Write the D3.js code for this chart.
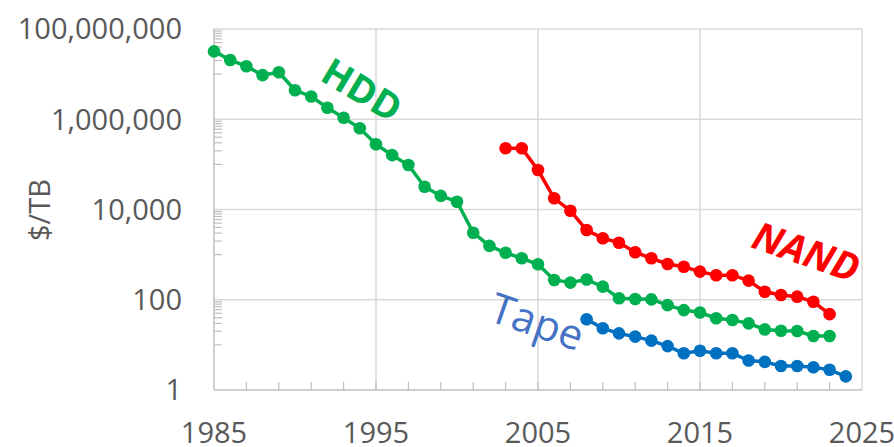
<!DOCTYPE html>
<html>
<head>
<meta charset="utf-8">
<script src="https://cdn.jsdelivr.net/npm/d3@7"></script>
<style>
  body { margin: 0; background: #fff; }
  text { font-family: "Open Sans", sans-serif; }
</style>
</head>
<body>
<div id="chart"></div>
<script>
// data ($/TB by year)
var hddYears = d3.range(1985, 2024);
var hddValues = [3.2e7, 2.05e7, 1.5e7, 9.5e6, 1.1e7, 4.4e6, 3.2e6, 1.8e6, 1.08e6, 6.3e5,
                 2.8e5, 1.6e5, 9.7e4, 3.2e4, 2.0e4, 1.49e4, 3060, 1560, 1100, 830,
                 610, 275, 240, 280, 195, 108, 104, 102, 76, 59,
                 52, 39, 35.5, 30, 22, 20.6, 20.3, 15.7, 15.7];
var nandYears = d3.range(2003, 2024);
var nandValues = [2.27e5, 2.27e5, 7.5e4, 1.77e4, 9400, 3500, 2300, 1840, 1130, 830,
                  620, 540, 420, 350, 350, 265, 150, 127, 117, 90, 48];
var tapeYears = d3.range(2008, 2025);
var tapeValues = [36.9, 23.3, 18, 15.2, 12.4, 9.4, 6.5, 7.4, 6.5, 6.5,
                  4.5, 4.2, 3.4, 3.4, 3.2, 2.8, 2.0];
var yTicks = [1, 100, 10000, 1000000, 100000000];
var xTicks = [1985, 1995, 2005, 2015, 2025];

var width = 894, height = 447;
var plot = {left: 214, right: 862, top: 29, bottom: 390};

var svg = d3.select("#chart")
  .append("svg")
    .attr("width", width)
    .attr("height", height);

var x = d3.scaleLinear().domain([1985, 2025]).range([plot.left, plot.right]);
var y = d3.scaleLog().domain([1, 1e8]).range([plot.bottom, plot.top]);

// gridlines
svg.append("g")
  .selectAll("line")
  .data(yTicks.slice(1))
  .enter()
  .append("line")
    .attr("x1", plot.left).attr("x2", plot.right)
    .attr("y1", function(d) { return y(d); })
    .attr("y2", function(d) { return y(d); })
    .attr("stroke", "#d9d9d9")
    .attr("stroke-width", 1.5);

svg.append("g")
  .selectAll("line")
  .data(xTicks.slice(1))
  .enter()
  .append("line")
    .attr("x1", function(d) { return x(d); })
    .attr("x2", function(d) { return x(d); })
    .attr("y1", plot.top).attr("y2", plot.bottom)
    .attr("stroke", "#d9d9d9")
    .attr("stroke-width", 1.5);

// minor ticks on y axis: n * 10^(2k+1)
var yMinor = [];
[1, 3, 5, 7].forEach(function(e) {
  for (var n = 1; n < 10; n++) yMinor.push(n * Math.pow(10, e));
});
svg.append("g")
  .selectAll("line")
  .data(yMinor)
  .enter()
  .append("line")
    .attr("x1", plot.left).attr("x2", plot.left + 8)
    .attr("y1", function(d) { return y(d); })
    .attr("y2", function(d) { return y(d); })
    .attr("stroke", "#bfbfbf")
    .attr("stroke-width", 1.2);

// minor ticks on x axis every 2 years
var xMinor = d3.range(1987, 2025, 2);
svg.append("g")
  .selectAll("line")
  .data(xMinor)
  .enter()
  .append("line")
    .attr("x1", function(d) { return x(d); })
    .attr("x2", function(d) { return x(d); })
    .attr("y1", plot.bottom).attr("y2", plot.bottom - 8)
    .attr("stroke", "#bfbfbf")
    .attr("stroke-width", 1.2);

// axis lines
svg.append("line")
  .attr("x1", plot.left).attr("x2", plot.left)
  .attr("y1", plot.top).attr("y2", plot.bottom)
  .attr("stroke", "#bfbfbf").attr("stroke-width", 1.5);
svg.append("line")
  .attr("x1", plot.left).attr("x2", plot.right)
  .attr("y1", plot.bottom).attr("y2", plot.bottom)
  .attr("stroke", "#bfbfbf").attr("stroke-width", 1.5);

// tick labels
var fmt = d3.format(",");
svg.append("g")
  .selectAll("text")
  .data(yTicks)
  .enter()
  .append("text")
    .attr("x", 182)
    .attr("y", function(d) { return y(d); })
    .attr("dy", "0.36em")
    .attr("text-anchor", "end")
    .style("font-size", "29px")
    .style("fill", "#595959")
    .text(function(d) { return fmt(d); });

svg.append("g")
  .selectAll("text")
  .data(xTicks)
  .enter()
  .append("text")
    .attr("x", function(d) { return x(d); })
    .attr("y", 443)
    .attr("text-anchor", "middle")
    .style("font-size", "29px")
    .style("fill", "#595959")
    .text(function(d) { return d; });

// Y axis label
svg.append("text")
  .attr("transform", "translate(50,210)rotate(-90)")
  .attr("text-anchor", "middle")
  .style("font-size", "29px")
  .style("fill", "#595959")
  .text("$/TB");

// series
var series = [
  {name: "HDD", years: hddYears, values: hddValues, color: "#00b050"},
  {name: "NAND", years: nandYears, values: nandValues, color: "#ff0000"},
  {name: "Tape", years: tapeYears, values: tapeValues, color: "#0070c0"}
];

var line = d3.line()
  .x(function(d) { return x(d[0]); })
  .y(function(d) { return y(d[1]); });

series.forEach(function(s) {
  var pts = d3.zip(s.years, s.values);
  svg.append("path")
    .datum(pts)
    .attr("d", line)
    .attr("fill", "none")
    .attr("stroke", s.color)
    .attr("stroke-width", 3.5);
  svg.append("g")
    .selectAll("circle")
    .data(pts)
    .enter()
    .append("circle")
      .attr("cx", function(d) { return x(d[0]); })
      .attr("cy", function(d) { return y(d[1]); })
      .attr("r", 6.3)
      .style("fill", s.color);
});

// series labels
svg.append("text")
  .attr("transform", "translate(362,90)rotate(31)")
  .attr("text-anchor", "middle")
  .attr("dy", "0.35em")
  .style("font-size", "38px")
  .style("font-weight", "bold")
  .style("fill", "#00b050")
  .text("HDD");

svg.append("text")
  .attr("transform", "translate(806,252)rotate(19)")
  .attr("text-anchor", "middle")
  .attr("dy", "0.35em")
  .style("font-size", "39px")
  .style("font-weight", "bold")
  .style("font-style", "italic")
  .style("fill", "#ff0000")
  .text("NAND");

svg.append("text")
  .attr("transform", "translate(537,322)rotate(19)")
  .attr("text-anchor", "middle")
  .attr("dy", "0.35em")
  .style("font-size", "42px")
  .style("fill", "#4472c4")
  .text("Tape");
</script>
</body>
</html>
